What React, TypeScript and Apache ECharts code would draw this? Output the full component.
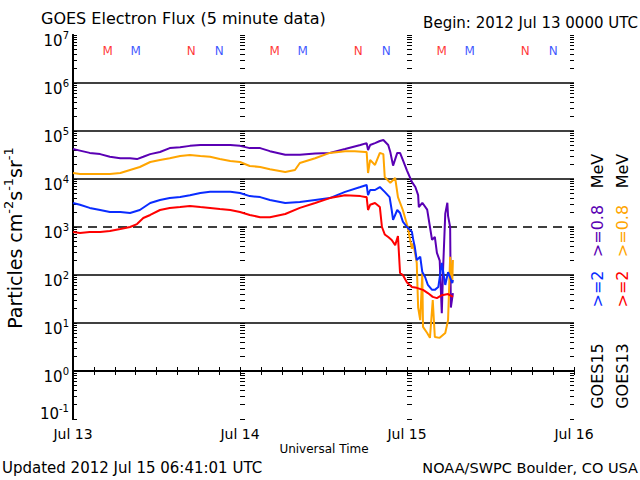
import React, { useEffect, useRef } from 'react';
import * as echarts from 'echarts';

const dayLabels = ['Jul 13', 'Jul 14', 'Jul 15', 'Jul 16'];

// [hours since 2012-07-13 00:00 UTC, flux]
const goes15E08: [number, number][] = [
  [0, 4.2e4], [1.0, 3.9e4], [2.4, 3.5e4], [3.9, 3.3e4], [5.3, 2.9e4], [6.8, 2.7e4], [8.2, 2.7e4], [9.2, 2.6e4],
  [10.1, 2.9e4], [11.1, 3.3e4], [12.5, 3.65e4], [13.9, 4.4e4], [15.4, 4.6e4], [16.8, 4.9e4], [18.3, 5.1e4],
  [21.1, 5.1e4], [22.6, 5.1e4], [24.0, 4.9e4], [25.4, 4.4e4], [26.9, 4.4e4], [28.3, 3.8e4], [30.5, 3.2e4],
  [32.6, 3.2e4], [34.8, 3.4e4], [36.9, 3.5e4], [39.1, 4.2e4], [41.3, 5.1e4], [42.2, 5.6e4], [42.4, 4.0e4],
  [42.7, 5.1e4], [43.4, 5.6e4], [44.1, 6.2e4], [44.6, 6.5e4], [45.3, 5.1e4], [45.6, 3.65e4], [46.0, 1.9e4],
  [46.6, 3.5e4], [47.0, 3.5e4], [47.4, 2.5e4], [48.0, 1.5e4], [48.7, 8.7e3], [49.2, 6.8e3], [49.6, 4.6e3],
  [49.7, 2.6e3], [50.2, 3.2e3], [50.9, 2.3e3], [51.3, 1.0e3], [51.6, 540], [52.0, 620], [52.3, 290],
  [52.7, 200], [53.0, 16], [53.2, 150], [53.5, 1.9e3], [53.8, 3.2e3], [53.9, 1.7e3], [54.2, 1.0e3],
  [54.3, 21], [54.6, 42],
];

const goes13E08: [number, number][] = [
  [0, 1.33e4], [1.0, 1.27e4], [2.4, 1.27e4], [3.9, 1.27e4], [5.3, 1.27e4], [6.8, 1.33e4], [8.2, 1.54e4],
  [9.6, 1.78e4], [11.1, 2.26e4], [12.5, 2.5e4], [13.9, 2.7e4], [15.4, 3.0e4], [16.8, 3.16e4], [18.3, 3.0e4],
  [19.7, 2.9e4], [21.1, 2.6e4], [22.6, 2.37e4], [24.0, 2.26e4], [25.4, 1.87e4], [26.9, 1.78e4], [28.3, 1.6e4],
  [30.5, 1.4e4], [31.9, 1.54e4], [32.6, 2.15e4], [34.8, 2.7e4], [36.9, 3.5e4], [39.1, 3.8e4], [40.5, 3.8e4],
  [42.0, 3.65e4], [42.2, 3.65e4], [42.4, 1.33e4], [42.7, 2.5e4], [43.4, 1.96e4], [44.1, 3.5e4], [44.6, 3.3e4],
  [44.8, 1.1e4], [45.6, 8.3e3], [46.3, 1.05e4], [46.7, 4.2e3], [47.4, 2.26e3], [48.1, 1.0e3], [48.7, 350],
  [48.9, 460], [49.4, 180], [49.6, 21], [49.9, 11.5], [50.2, 110], [50.3, 8.3], [50.9, 6.2], [51.3, 4.9],
  [51.7, 30], [52.0, 5.1], [52.7, 4.9], [53.5, 6.2], [53.9, 11.5], [54.2, 240], [54.5, 68], [54.6, 205],
];

const goes15E2: [number, number][] = [
  [0, 3.16e3], [1.0, 2.9e3], [2.4, 2.5e3], [3.9, 2.26e3], [5.3, 2.05e3], [6.8, 2.05e3], [8.2, 1.96e3],
  [9.6, 2.26e3], [11.1, 3.16e3], [12.5, 3.65e3], [13.9, 4.0e3], [15.4, 4.2e3], [16.8, 4.6e3], [18.3, 5.1e3],
  [19.7, 5.4e3], [21.1, 5.4e3], [22.6, 5.4e3], [24.0, 5.1e3], [25.4, 4.4e3], [26.9, 4.2e3], [28.3, 3.65e3],
  [30.5, 3.16e3], [32.6, 3.3e3], [34.8, 3.65e3], [36.9, 4.0e3], [39.1, 5.4e3], [41.3, 6.8e3], [42.2, 7.5e3],
  [42.4, 4.6e3], [42.7, 5.9e3], [43.4, 5.9e3], [44.1, 6.8e3], [44.8, 5.4e3], [45.5, 4.2e3], [45.8, 2.26e3],
  [46.0, 1.4e3], [46.6, 2.26e3], [47.0, 1.96e3], [47.4, 1.3e3], [48.0, 1.0e3], [48.7, 800], [48.9, 540],
  [49.1, 400], [49.4, 205], [49.9, 240], [50.2, 115], [50.6, 91], [51.0, 62], [51.6, 49], [52.0, 49],
  [52.5, 56], [53.0, 178], [53.5, 62], [53.9, 115], [54.5, 68], [54.6, 79],
];

const goes13E2: [number, number][] = [
  [0, 787], [1.0, 750], [2.4, 787], [3.9, 787], [5.3, 826], [6.8, 910], [8.2, 1.0e3], [9.2, 1.15e3],
  [10.1, 1.54e3], [11.1, 1.78e3], [12.5, 2.26e3], [13.9, 2.5e3], [15.4, 2.6e3], [16.8, 2.74e3], [18.3, 2.6e3],
  [19.7, 2.5e3], [21.1, 2.37e3], [22.6, 2.26e3], [24.0, 2.05e3], [25.4, 1.78e3], [26.9, 1.6e3], [28.3, 1.6e3],
  [30.5, 1.87e3], [32.6, 2.5e3], [34.8, 3.16e3], [36.9, 4.0e3], [39.1, 4.6e3], [41.3, 4.4e3], [42.0, 4.2e3],
  [42.2, 4.2e3], [42.4, 2.26e3], [42.7, 2.9e3], [43.4, 3.16e3], [44.1, 2.6e3], [44.4, 1.0e3], [44.8, 700],
  [45.3, 617], [45.8, 536], [46.3, 420], [46.7, 650], [47.0, 110], [47.4, 100], [48.0, 70], [48.7, 56],
  [49.4, 54], [50.3, 49], [51.0, 42], [51.7, 35], [52.3, 33], [53.0, 38], [53.9, 40], [54.6, 35],
];

const goes13MidnightHours = [5, 29, 53];
const goes15MidnightHours = [9, 33, 57];
const goes13NoonHours = [17, 41, 65];
const goes15NoonHours = [21, 45, 69];
const markerFlux = 4.7e6;

const solidGridValues = [1, 10, 100, 1e4, 1e5, 1e6];
const dashedGridValue = 1e3;

const PURPLE = '#5a00b4';
const ORANGE = '#ffa500';
const BLUE = '#0a2cff';
const RED = '#ff0000';
const FONT = 'DejaVu Sans';

export default function App() {
  const ref = useRef<HTMLDivElement>(null);

  useEffect(() => {
    if (!ref.current) return;
    document.body.style.margin = '0';
    const chart = echarts.init(ref.current, null, { renderer: 'svg', width: 640, height: 480 });

    const tickLogs: number[] = [];
    for (let d = -1; d < 7; d++) for (let m = 1; m < 10; m++) tickLogs.push(d + Math.log10(m));
    tickLogs.push(7);

    const tickAxis = (position: string, offset: number, length: number) => ({
      type: 'value', min: -1, max: 7, position, offset,
      axisLine: { show: false }, axisLabel: { show: false }, splitLine: { show: false },
      axisTick: { show: true, inside: true, length, customValues: tickLogs, lineStyle: { color: '#000', width: 1 } },
    });

    const markerSeries = (hours: number[], letter: string, color: string) => ({
      type: 'scatter', xAxisIndex: 0, yAxisIndex: 0, symbolSize: 1,
      itemStyle: { color: 'rgba(0,0,0,0)' },
      silent: true, z: 4,
      data: hours.map((h) => [h, markerFlux]),
      label: { show: true, position: 'inside', formatter: letter, color, fontSize: 12, fontFamily: FONT },
    });

    const lineSeries = (data: [number, number][], color: string) => ({
      type: 'line', xAxisIndex: 0, yAxisIndex: 0, data, showSymbol: false, symbol: 'none',
      lineStyle: { color, width: 2 }, itemStyle: { color }, silent: true, z: 3,
    });

    const rotated = (x: number, y: number, text: string, fill: string) => ({
      type: 'text', x, y, rotation: Math.PI / 2,
      style: { text, fontSize: 16, fontFamily: FONT, fill, align: 'center', verticalAlign: 'middle' },
    });

    const option: any = {
      animation: false,
      backgroundColor: '#fff',
      grid: { left: 73, top: 35, right: 66, bottom: 61, containLabel: false, outerBoundsMode: 'none' },
      xAxis: [
        {
          type: 'value', min: 0, max: 72, interval: 3, position: 'bottom',
          axisLine: { show: true, lineStyle: { color: '#000', width: 2 } },
          axisTick: { show: true, inside: true, length: 4, lineStyle: { color: '#000', width: 1 } },
          axisLabel: {
            show: true, margin: 8, color: '#000', fontSize: 14, fontFamily: FONT,
            showMinLabel: true, showMaxLabel: true,
            formatter: (v: number) => (v % 24 === 0 ? dayLabels[v / 24] : ''),
          },
          splitLine: { show: false },
        },
        {
          type: 'value', min: 0, max: 72, interval: 3, position: 'top',
          axisLine: { show: true, lineStyle: { color: '#000', width: 2 } },
          axisTick: { show: true, inside: true, length: 4, lineStyle: { color: '#000', width: 1 } },
          axisLabel: { show: false },
          splitLine: { show: false },
        },
      ],
      yAxis: [
        {
          type: 'log', logBase: 10, min: 0.1, max: 1e7, position: 'left',
          axisLine: { show: true, lineStyle: { color: '#000', width: 2 } },
          axisTick: { show: false },
          splitLine: { show: false },
          axisLabel: {
            show: true, margin: 4, color: '#000', fontFamily: FONT, padding: [8, 0, 0, 0],
            formatter: (v: number) => {
              const exp = Math.round(Math.log10(v));
              return exp < 0 ? `{c|10}{f|${exp}}` : `{b|10}{e|${exp}}`;
            },
            rich: {
              b: { fontSize: 15, fontFamily: FONT, color: '#000', verticalAlign: 'bottom' },
              e: { fontSize: 10, fontFamily: FONT, color: '#000', verticalAlign: 'bottom', padding: [0, 0, 8, 0] },
              c: { fontSize: 15, fontFamily: FONT, color: '#000', verticalAlign: 'bottom', padding: [0, 0, 22, 0] },
              f: { fontSize: 10, fontFamily: FONT, color: '#000', verticalAlign: 'bottom', padding: [0, 0, 30, 0] },
            },
          },
        },
        {
          type: 'log', logBase: 10, min: 0.1, max: 1e7, position: 'right',
          axisLine: { show: true, lineStyle: { color: '#000', width: 2 } },
          axisTick: { show: false }, axisLabel: { show: false }, splitLine: { show: false },
        },
        tickAxis('left', 0, 4),
        tickAxis('right', 0, 4),
        tickAxis('left', -167, 5),
        tickAxis('left', -334, 5),
      ],
      series: [
        {
          type: 'line', xAxisIndex: 0, yAxisIndex: 0, data: [[0, 1e3]], symbol: 'none', silent: true,
          lineStyle: { opacity: 0 }, z: 1,
          markLine: {
            silent: true, symbol: ['none', 'none'], label: { show: false }, z: 1,
            lineStyle: { color: '#000', width: 1.5, type: 'solid' },
            data: [
              ...solidGridValues.map((v) => ({ yAxis: v })),
              { yAxis: dashedGridValue, lineStyle: { color: '#000', width: 1.5, type: [9, 6] } },
            ],
          },
        },
        lineSeries(goes15E08, PURPLE),
        lineSeries(goes13E08, ORANGE),
        lineSeries(goes15E2, BLUE),
        lineSeries(goes13E2, RED),
        markerSeries(goes13MidnightHours, 'M', RED),
        markerSeries(goes15MidnightHours, 'M', BLUE),
        markerSeries(goes13NoonHours, 'N', RED),
        markerSeries(goes15NoonHours, 'N', BLUE),
      ],
      graphic: [
        { type: 'text', x: 41, y: 18, style: { text: 'GOES Electron Flux (5 minute data)', fontSize: 16, fontFamily: FONT, fill: '#000', align: 'left', verticalAlign: 'middle' } },
        { type: 'text', x: 638, y: 23, style: { text: 'Begin: 2012 Jul 13 0000 UTC', fontSize: 15, fontFamily: FONT, fill: '#000', align: 'right', verticalAlign: 'middle' } },
        { type: 'text', x: 324, y: 449, style: { text: 'Universal Time', fontSize: 12, fontFamily: FONT, fill: '#000', align: 'center', verticalAlign: 'middle' } },
        { type: 'text', x: 2, y: 468, style: { text: 'Updated 2012 Jul 15 06:41:01 UTC', fontSize: 15, fontFamily: FONT, fill: '#000', align: 'left', verticalAlign: 'middle' } },
        { type: 'text', x: 638, y: 468, style: { text: 'NOAA/SWPC Boulder, CO USA', fontSize: 14.5, fontFamily: FONT, fill: '#000', align: 'right', verticalAlign: 'middle' } },
        {
          type: 'text', x: 13, y: 238, rotation: Math.PI / 2,
          style: {
            text: '{n|Particles cm}{s|-2}{n|s}{s|-1}{n|sr}{s|-1}', align: 'center', verticalAlign: 'middle',
            fontSize: 19, fontFamily: FONT, fill: '#000',
            rich: {
              n: { fontSize: 19, fontFamily: FONT, fill: '#000', verticalAlign: 'bottom' },
              s: { fontSize: 13, fontFamily: FONT, fill: '#000', verticalAlign: 'bottom', padding: [0, 0, 9, 0] },
            },
          },
        },
        rotated(597, 171, 'MeV', '#000'),
        rotated(597, 231, '>=0.8', PURPLE),
        rotated(597, 289, '>=2', BLUE),
        rotated(597, 376, 'GOES15', '#000'),
        rotated(622, 171, 'MeV', '#000'),
        rotated(622, 231, '>=0.8', ORANGE),
        rotated(622, 289, '>=2', RED),
        rotated(622, 376, 'GOES13', '#000'),
      ],
    };

    chart.setOption(option);
    return () => chart.dispose();
  }, []);

  return <div ref={ref} style={{ position: 'fixed', left: 0, top: 0, width: 640, height: 480, background: '#fff' }} />;
}
